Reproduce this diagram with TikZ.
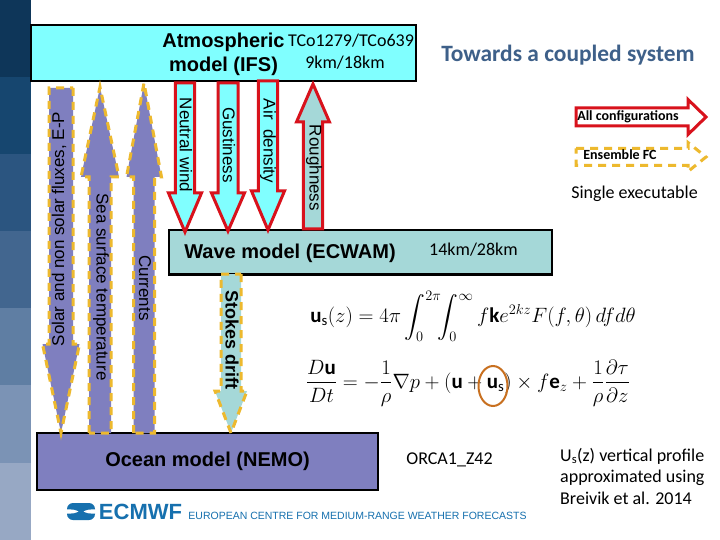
\documentclass[tikz,border=0pt]{standalone}
\usepackage{fontspec}
\usepackage{amsmath}
\usetikzlibrary{calc,shapes.geometric}
\setmainfont{Carlito}
\newfontfamily\arialf{Liberation Sans}
\definecolor{cyanbox}{HTML}{80FFFF}
\definecolor{tealbox}{HTML}{A5D8D8}
\definecolor{purplebox}{HTML}{7F7FBF}
\definecolor{redline}{HTML}{D8121C}
\definecolor{orangeline}{HTML}{EDB92E}
\definecolor{titleblue}{HTML}{3E6089}
\definecolor{ecblue}{HTML}{1670AE}
\definecolor{markc}{HTML}{C87020}
\tikzset{
  modelbox/.style={draw=black,line width=2.6pt,inner sep=0pt},
  allconf/.style={draw=redline,line width=3pt,miter limit=4},
  ensemble/.style={draw=orangeline,line width=3pt,dash pattern=on 8pt off 6pt},
  armlabel/.style={font=\arialf\fontsize{17}{19}\selectfont,rotate=-90,inner sep=0pt},
  boxlabel/.style={font=\arialf\bfseries\fontsize{20}{22}\selectfont,inner sep=0pt},
  note/.style={font=\fontsize{18}{21}\selectfont,inner sep=0pt},
  legendlabel/.style={font=\bfseries\fontsize{14}{16}\selectfont,inner sep=0pt},
}
% from, to, half shaft, half head, head length, style
\newcommand{\blockarrow}[6]{%
  \coordinate (ba) at ($(#2)!#5pt!(#1)$);
  \draw[#6] ($(#1)!#3pt!90:(#2)$) -- ($(ba)!#3pt!90:(#2)$) -- ($(ba)!#4pt!90:(#2)$)
    -- (#2) -- ($(ba)!#4pt!-90:(#2)$) -- ($(ba)!#3pt!-90:(#2)$) -- ($(#1)!#3pt!-90:(#2)$) -- cycle;
}
\begin{document}
\begin{tikzpicture}[x=1pt,y=-1pt]
\useasboundingbox (0,0) rectangle (720,540);
\fill[white] (0,0) rectangle (720,540);
% side stripe
\foreach \ya/\yb/\c in {0/77/0E3659,77/154/16466F,154/231/2B5580,231/308/42668F,308/385/5F7EA3,385/463/7B93B5,463/540/97A8C4}{
  \definecolor{bandc}{HTML}{\c}
  \fill[bandc] (0,\ya) rectangle (31,\yb);
}
% boxes
\path[modelbox,fill=cyanbox] (31,25) rectangle (416,81);
\path[modelbox,fill=tealbox] (169,230) rectangle (552,274.5);
\path[modelbox,fill=purplebox] (37,433) rectangle (378,490);
% arrow ends
\coordinate (solarT) at (61,88);   \coordinate (solarB) at (61,433);
\coordinate (sstT) at (100,87);    \coordinate (sstB) at (100,433);
\coordinate (curT) at (144,83);    \coordinate (curB) at (144,433);
\coordinate (neuT) at (185,83);    \coordinate (neuB) at (185,232);
\coordinate (gusT) at (228,83);    \coordinate (gusB) at (228,231);
\coordinate (airT) at (268,81);    \coordinate (airB) at (268,230);
\coordinate (rouT) at (313,84);    \coordinate (rouB) at (313,229);
\coordinate (stoT) at (231,274);   \coordinate (stoB) at (231,433);
\blockarrow{solarT}{solarB}{12}{18.5}{89}{ensemble,fill=purplebox}
\blockarrow{sstB}{sstT}{11}{19}{90}{ensemble,fill=purplebox}
\blockarrow{curB}{curT}{10.5}{17.5}{94}{ensemble,fill=purplebox}
\blockarrow{neuT}{neuB}{9.7}{16.5}{39}{allconf,fill=cyanbox}
\blockarrow{gusT}{gusB}{10}{16.5}{38}{allconf,fill=cyanbox}
\blockarrow{airT}{airB}{9.7}{16.5}{39}{allconf,fill=cyanbox}
\blockarrow{rouB}{rouT}{9.7}{16.5}{38}{allconf,fill=tealbox}
\blockarrow{stoT}{stoB}{10}{16}{42}{ensemble,fill=tealbox}
% legend arrows
\coordinate (allL) at (576,117);  \coordinate (allR) at (706,117);
\coordinate (ensL) at (576,157);  \coordinate (ensR) at (706,157);
\blockarrow{allL}{allR}{9}{17.5}{18}{allconf,fill=white}
\blockarrow{ensL}{ensR}{8.5}{14.5}{18}{ensemble,fill=white}
% text
\node[boxlabel] (atm) at (223.5,42) {Atmospheric};
\node[boxlabel] (ifs) at (223.5,66) {model (IFS)};
\node[note] (tco) at (351,41) {TCo1279/TCo639};
\node[note] (km1) at (345,63) {9km/18km};
\node[font=\bfseries\fontsize{23.4}{26}\selectfont,text=titleblue,inner sep=0pt] (title) at (568,55) {Towards a coupled system};
\node[legendlabel] (lall) at (628,117) {All configurations};
\node[legendlabel] (lens) at (620,155) {Ensemble FC};
\node[note] (single) at (634.5,194) {Single executable};
\node[boxlabel] (wave) at (290,253) {Wave model (ECWAM)};
\node[note] (km2) at (473.5,250) {14km/28km};
\node[boxlabel] (ocean) at (207.5,461) {Ocean model (NEMO)};
\node[note] (orca) at (449.5,460) {ORCA1\_Z42};
\node[armlabel,rotate=180] (lsolar) at (59,229) {Solar and non solar fluxes, E-P};
\node[armlabel] (lsst) at (101,287) {Sea surface temperature};
\node[armlabel] (lcur) at (145,288) {Currents};
\node[armlabel] (lneu) at (186,145) {Neutral wind};
\node[armlabel] (lgus) at (229,145) {Gustiness};
\node[armlabel] (lair) at (268,141) {Air\ \ density};
\node[armlabel] (lrou) at (314,168) {Roughness};
\node[armlabel,font=\arialf\bfseries\fontsize{18}{20}\selectfont] (lsto) at (232,340) {Stokes drift};
% equations
\node[inner sep=0pt,font=\fontsize{21}{24}\selectfont] (eqa) at (473,316)
  {$\displaystyle \mathbf{u}_{\mathrm{s}}(z)=4\pi\int_0^{2\pi}\!\!\int_0^{\infty} f\mathbf{k}e^{2kz}F(f,\theta)\,dfd\theta$};
\node[inner sep=0pt,font=\fontsize{21}{24}\selectfont] (eqb) at (468,383)
  {$\displaystyle \frac{D\mathbf{u}}{Dt}=-\frac{1}{\rho}\nabla p+(\mathbf{u}+\mathbf{u}_{\mathrm{s}})\times f\mathbf{e}_z+\frac{1}{\rho}\frac{\partial\tau}{\partial z}$};
\node[draw=markc,line width=2pt,ellipse,minimum width=29pt,minimum height=40pt,inner sep=0pt] (mark) at (493,386) {};
% note
\node[note,align=left,anchor=north west,font=\fontsize{18}{21.5}\selectfont] (prof) at (560,448)
  {U$_{\mathrm{s}}$(z) vertical profile\\approximated using\\Breivik et al. 2014};
% logo
\node[font=\arialf\bfseries\fontsize{22}{24}\selectfont,text=ecblue,inner sep=0pt] (ecname) at (140.5,512) {ECMWF};
\node[font=\arialf\fontsize{10.5}{12}\selectfont,text=ecblue,inner sep=0pt] (ecfull) at (357.5,516) {EUROPEAN CENTRE FOR MEDIUM-RANGE WEATHER FORECASTS};
\fill[ecblue,rounded corners=6pt] (67,503) rectangle (95,520);
\fill[white] (66,509.5) .. controls (72,509) and (76,510) .. (78.5,511.5) .. controls (76,513) and (72,514) .. (66,513.5) -- cycle;
\fill[white] (96,509.5) .. controls (90,509) and (86,510) .. (83.5,511.5) .. controls (86,513) and (90,514) .. (96,513.5) -- cycle;
\end{tikzpicture}
\end{document}
